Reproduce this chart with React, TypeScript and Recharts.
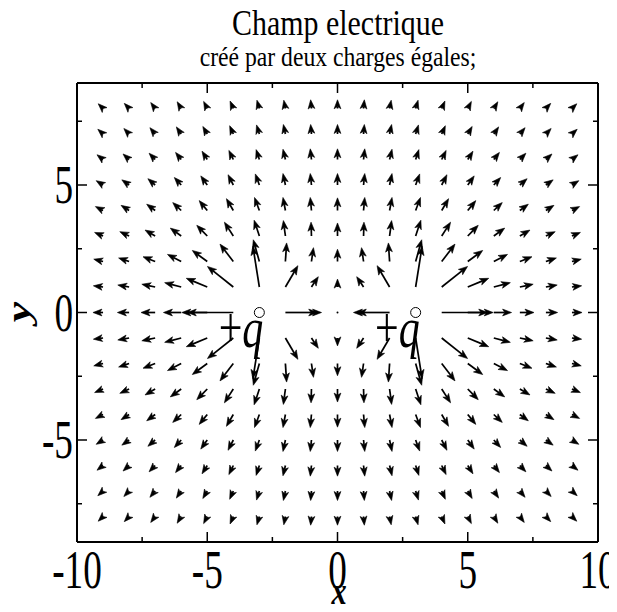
import {
  ScatterChart,
  Scatter,
  XAxis,
  YAxis,
  ReferenceLine,
} from "recharts";

// grid of sample points (tails of the arrows)
const xCols = [-9, -8, -7, -6, -5, -4, -3, -2, -1, 0, 1, 2, 3, 4, 5, 6, 7, 8, 9];
const yRows = [8, 7, 6, 5, 4, 3, 2, 1, 0, -1, -2, -3, -4, -5, -6, -7, -8];

// field components at each grid point, one row per y (top to bottom), null = on a charge
const fieldU = [
  [-0.12, -0.12, -0.11, -0.10, -0.09, -0.08, -0.06, -0.04, -0.02, 0, 0.02, 0.04, 0.06, 0.08, 0.09, 0.10, 0.11, 0.12, 0.12],
  [-0.13, -0.13, -0.13, -0.12, -0.11, -0.09, -0.07, -0.05, -0.02, 0, 0.02, 0.05, 0.07, 0.09, 0.11, 0.12, 0.13, 0.13, 0.13],
  [-0.15, -0.15, -0.15, -0.14, -0.13, -0.11, -0.08, -0.06, -0.03, 0, 0.03, 0.06, 0.08, 0.11, 0.13, 0.14, 0.15, 0.15, 0.15],
  [-0.17, -0.18, -0.18, -0.17, -0.16, -0.13, -0.10, -0.06, -0.03, 0, 0.03, 0.06, 0.10, 0.13, 0.16, 0.17, 0.18, 0.18, 0.17],
  [-0.19, -0.20, -0.21, -0.21, -0.20, -0.17, -0.12, -0.06, -0.03, 0, 0.03, 0.06, 0.12, 0.17, 0.20, 0.21, 0.21, 0.20, 0.19],
  [-0.21, -0.23, -0.25, -0.27, -0.26, -0.22, -0.13, -0.05, -0.01, 0, 0.01, 0.05, 0.13, 0.22, 0.26, 0.27, 0.25, 0.23, 0.21],
  [-0.23, -0.26, -0.30, -0.34, -0.37, -0.33, -0.15, 0.03, 0.05, 0, -0.05, -0.03, 0.15, 0.33, 0.37, 0.34, 0.30, 0.26, 0.23],
  [-0.24, -0.28, -0.33, -0.41, -0.52, -0.64, -0.16, 0.31, 0.17, 0, -0.17, -0.31, 0.16, 0.64, 0.52, 0.41, 0.33, 0.28, 0.24],
  [-0.25, -0.29, -0.35, -0.44, -0.63, -1.14, null, 0.80, 0.25, 0, -0.25, -0.80, null, 1.14, 0.63, 0.44, 0.35, 0.29, 0.25],
  [-0.24, -0.28, -0.33, -0.41, -0.52, -0.64, -0.16, 0.31, 0.17, 0, -0.17, -0.31, 0.16, 0.64, 0.52, 0.41, 0.33, 0.28, 0.24],
  [-0.23, -0.26, -0.30, -0.34, -0.37, -0.33, -0.15, 0.03, 0.05, 0, -0.05, -0.03, 0.15, 0.33, 0.37, 0.34, 0.30, 0.26, 0.23],
  [-0.21, -0.23, -0.25, -0.27, -0.26, -0.22, -0.13, -0.05, -0.01, 0, 0.01, 0.05, 0.13, 0.22, 0.26, 0.27, 0.25, 0.23, 0.21],
  [-0.19, -0.20, -0.21, -0.21, -0.20, -0.17, -0.12, -0.06, -0.03, 0, 0.03, 0.06, 0.12, 0.17, 0.20, 0.21, 0.21, 0.20, 0.19],
  [-0.17, -0.18, -0.18, -0.17, -0.16, -0.13, -0.10, -0.06, -0.03, 0, 0.03, 0.06, 0.10, 0.13, 0.16, 0.17, 0.18, 0.18, 0.17],
  [-0.15, -0.15, -0.15, -0.14, -0.13, -0.11, -0.08, -0.06, -0.03, 0, 0.03, 0.06, 0.08, 0.11, 0.13, 0.14, 0.15, 0.15, 0.15],
  [-0.13, -0.13, -0.13, -0.12, -0.11, -0.09, -0.07, -0.05, -0.02, 0, 0.02, 0.05, 0.07, 0.09, 0.11, 0.12, 0.13, 0.13, 0.13],
  [-0.12, -0.12, -0.11, -0.10, -0.09, -0.08, -0.06, -0.04, -0.02, 0, 0.02, 0.04, 0.06, 0.08, 0.09, 0.10, 0.11, 0.12, 0.12],
];

const fieldV = [
  [0.12, 0.13, 0.15, 0.17, 0.18, 0.19, 0.21, 0.21, 0.22, 0.22, 0.22, 0.21, 0.21, 0.19, 0.18, 0.17, 0.15, 0.13, 0.12],
  [0.12, 0.14, 0.16, 0.18, 0.19, 0.21, 0.23, 0.24, 0.24, 0.24, 0.24, 0.24, 0.23, 0.21, 0.19, 0.18, 0.16, 0.14, 0.12],
  [0.12, 0.14, 0.16, 0.18, 0.21, 0.23, 0.25, 0.26, 0.27, 0.27, 0.27, 0.26, 0.25, 0.23, 0.21, 0.18, 0.16, 0.14, 0.12],
  [0.11, 0.13, 0.16, 0.19, 0.23, 0.26, 0.28, 0.29, 0.29, 0.29, 0.29, 0.29, 0.28, 0.26, 0.23, 0.19, 0.16, 0.13, 0.11],
  [0.10, 0.13, 0.16, 0.20, 0.25, 0.30, 0.33, 0.33, 0.33, 0.32, 0.33, 0.33, 0.33, 0.30, 0.25, 0.20, 0.16, 0.13, 0.10],
  [0.09, 0.11, 0.15, 0.20, 0.27, 0.35, 0.40, 0.39, 0.35, 0.33, 0.35, 0.39, 0.40, 0.35, 0.27, 0.20, 0.15, 0.11, 0.09],
  [0.06, 0.09, 0.12, 0.18, 0.28, 0.44, 0.55, 0.47, 0.35, 0.31, 0.35, 0.47, 0.55, 0.44, 0.28, 0.18, 0.12, 0.09, 0.06],
  [0.03, 0.05, 0.07, 0.11, 0.22, 0.52, 1.03, 0.54, 0.26, 0.20, 0.26, 0.54, 1.03, 0.52, 0.22, 0.11, 0.07, 0.05, 0.03],
  [0, 0, 0, 0, 0, 0, null, 0, 0, 0, 0, 0, null, 0, 0, 0, 0, 0, 0],
  [-0.03, -0.05, -0.07, -0.11, -0.22, -0.52, -1.03, -0.54, -0.26, -0.20, -0.26, -0.54, -1.03, -0.52, -0.22, -0.11, -0.07, -0.05, -0.03],
  [-0.06, -0.09, -0.12, -0.18, -0.28, -0.44, -0.55, -0.47, -0.35, -0.31, -0.35, -0.47, -0.55, -0.44, -0.28, -0.18, -0.12, -0.09, -0.06],
  [-0.09, -0.11, -0.15, -0.20, -0.27, -0.35, -0.40, -0.39, -0.35, -0.33, -0.35, -0.39, -0.40, -0.35, -0.27, -0.20, -0.15, -0.11, -0.09],
  [-0.10, -0.13, -0.16, -0.20, -0.25, -0.30, -0.33, -0.33, -0.33, -0.32, -0.33, -0.33, -0.33, -0.30, -0.25, -0.20, -0.16, -0.13, -0.10],
  [-0.11, -0.13, -0.16, -0.19, -0.23, -0.26, -0.28, -0.29, -0.29, -0.29, -0.29, -0.29, -0.28, -0.26, -0.23, -0.19, -0.16, -0.13, -0.11],
  [-0.12, -0.14, -0.16, -0.18, -0.21, -0.23, -0.25, -0.26, -0.27, -0.27, -0.27, -0.26, -0.25, -0.23, -0.21, -0.18, -0.16, -0.14, -0.12],
  [-0.12, -0.14, -0.16, -0.18, -0.19, -0.21, -0.23, -0.24, -0.24, -0.24, -0.24, -0.24, -0.23, -0.21, -0.19, -0.18, -0.16, -0.14, -0.12],
  [-0.12, -0.13, -0.15, -0.17, -0.18, -0.19, -0.21, -0.21, -0.22, -0.22, -0.22, -0.21, -0.21, -0.19, -0.18, -0.17, -0.15, -0.13, -0.12],
];

// the two point charges
const charges = [
  { x: -3, y: 0, label: "+q" },
  { x: 3, y: 0, label: "+q" },
];

const xTicks = [-10, -7.5, -5, -2.5, 0, 2.5, 5, 7.5, 10];
const yTicks = [-7.5, -5, -2.5, 0, 2.5, 5, 7.5];

const SERIF = "'Liberation Serif', 'Times New Roman', serif";
const ARROW_SCALE = 1.55; // axis units per field unit

const arrows = yRows
  .flatMap((y, r) =>
    xCols.map((x, c) => ({ x, y, u: fieldU[r][c], v: fieldV[r][c] }))
  )
  .filter((a) => a.u !== null && a.v !== null);

function renderArrow(props: any) {
  const { x1, y1, x2, y2 } = props;
  const dx = x2 - x1;
  const dy = y2 - y1;
  const len = Math.hypot(dx, dy);
  // null field: just a dot
  if (len < 0.5) return <circle cx={x1} cy={y1} r={1} fill="#000" />;
  const ux = dx / len;
  const uy = dy / len;
  const H = 9;
  const W = 3.4;
  const bx = x2 - ux * H;
  const by = y2 - uy * H;
  const nx = x2 - ux * H * 0.75;
  const ny = y2 - uy * H * 0.75;
  return (
    <g>
      {len > H * 0.75 && (
        <line x1={x1} y1={y1} x2={nx} y2={ny} stroke="#000" strokeWidth={1.7} />
      )}
      <polygon
        points={`${x2},${y2} ${bx - uy * W},${by + ux * W} ${nx},${ny} ${bx + uy * W},${by - ux * W}`}
        fill="#000"
        stroke="#000"
        strokeWidth={0.6}
        strokeLinejoin="round"
      />
    </g>
  );
}

const isMajor = (v: number) => v % 5 === 0;

function TickText({ x, y, anchor, children }: any) {
  return (
    <text
      transform={`translate(${x},${y}) scale(0.69,1)`}
      textAnchor={anchor}
      fontSize={54}
      fontFamily={SERIF}
      fill="#000"
      stroke="none"
    >
      {children}
    </text>
  );
}

// inward tick marks on opposite sides of the frame plus the value label,
// drawn from the end points of a reference line spanning the plot
function frameTicks(value: number) {
  const major = isMajor(value);
  const len = major ? 10 : 5;
  return (props: any) => {
    const { x1, y1, x2, y2 } = props;
    if (x1 === x2) {
      const top = Math.min(y1, y2);
      const bottom = Math.max(y1, y2);
      return (
        <g stroke="#000" strokeWidth={1.5}>
          <line x1={x1} y1={top} x2={x1} y2={top + len} />
          <line x1={x1} y1={bottom} x2={x1} y2={bottom - len} />
          {major && (
            <TickText x={x1} y={bottom + 46} anchor="middle">
              {String(value)}
            </TickText>
          )}
        </g>
      );
    }
    const left = Math.min(x1, x2);
    const right = Math.max(x1, x2);
    return (
      <g stroke="#000" strokeWidth={1.5}>
        <line x1={left} y1={y1} x2={left + len} y2={y1} />
        <line x1={right} y1={y1} x2={right - len} y2={y1} />
        {major && (
          <TickText x={left - 4} y={y1 + 18} anchor="end">
            {String(value)}
          </TickText>
        )}
      </g>
    );
  };
}

function ChargeMark(props: any) {
  const { cx, cy, payload } = props;
  return (
    <g>
      <circle cx={cx} cy={cy} r={5} fill="#fff" stroke="#000" strokeWidth={1} />
      <text
        transform={`translate(${cx + 4},${cy + 34}) scale(0.75,1)`}
        textAnchor="end"
        fontSize={56}
        fontFamily={SERIF}
        fill="#000"
      >
        <tspan>{payload.label.slice(0, 1)}</tspan>
        <tspan fontStyle="italic">{payload.label.slice(1)}</tspan>
      </text>
    </g>
  );
}

const frameLine = { stroke: "#000", strokeWidth: 2 };

export default function App() {
  return (
    <div style={{ position: "relative", width: 609, height: 604, marginBottom: -8 }}>
      <ScatterChart
        width={609}
        height={604}
        margin={{ top: 74, right: 18, bottom: 0, left: 0 }}
      >
        <XAxis
          type="number"
          dataKey="x"
          domain={[-10, 10]}
          allowDataOverflow
          height={70}
          tickLine={false}
          axisLine={frameLine}
          tick={false}
        />
        <XAxis
          xAxisId="top"
          orientation="top"
          type="number"
          dataKey="x"
          domain={[-10, 10]}
          height={1}
          tickLine={false}
          axisLine={frameLine}
          tick={false}
        />
        <YAxis
          type="number"
          dataKey="y"
          domain={[-9, 9]}
          allowDataOverflow
          width={69}
          tickLine={false}
          axisLine={frameLine}
          tick={false}
        />
        <YAxis
          yAxisId="right"
          orientation="right"
          type="number"
          dataKey="y"
          domain={[-9, 9]}
          width={1}
          tickLine={false}
          axisLine={frameLine}
          tick={false}
        />
        {xTicks.map((v) => (
          <ReferenceLine key={`tx${v}`} x={v} ifOverflow="visible" shape={frameTicks(v)} />
        ))}
        {yTicks.map((v) => (
          <ReferenceLine key={`ty${v}`} y={v} ifOverflow="visible" shape={frameTicks(v)} />
        ))}
        {arrows.map((a) => (
          <ReferenceLine
            key={`${a.x}_${a.y}`}
            segment={[
              { x: a.x, y: a.y },
              { x: a.x + ARROW_SCALE * a.u, y: a.y + ARROW_SCALE * a.v },
            ]}
            ifOverflow="visible"
            shape={renderArrow}
          />
        ))}
        <Scatter data={charges} shape={<ChargeMark />} isAnimationActive={false} />
      </ScatterChart>

      <svg
        width={617}
        height={612}
        style={{ position: "absolute", left: -8, top: -8, pointerEvents: "none" }}
      >
        <text
          transform="translate(338,35) scale(0.855,1)"
          textAnchor="middle"
          fontSize={35}
          fontFamily={SERIF}
          fill="#000"
        >
          Champ electrique
        </text>
        <text
          transform="translate(338,66) scale(0.845,1)"
          textAnchor="middle"
          fontSize={28}
          fontFamily={SERIF}
          fill="#000"
        >
          créé par deux charges égales;
        </text>
        <text
          transform="translate(339,604) scale(0.8,1)"
          textAnchor="middle"
          fontSize={38}
          fontWeight="bold"
          fontStyle="italic"
          fontFamily={SERIF}
          fill="#000"
        >
          x
        </text>
        <text
          transform="translate(25,312) scale(0.75,1) rotate(-90)"
          y={6}
          textAnchor="middle"
          fontSize={46}
          fontWeight="bold"
          fontStyle="italic"
          fontFamily={SERIF}
          fill="#000"
        >
          y
        </text>
      </svg>
    </div>
  );
}
